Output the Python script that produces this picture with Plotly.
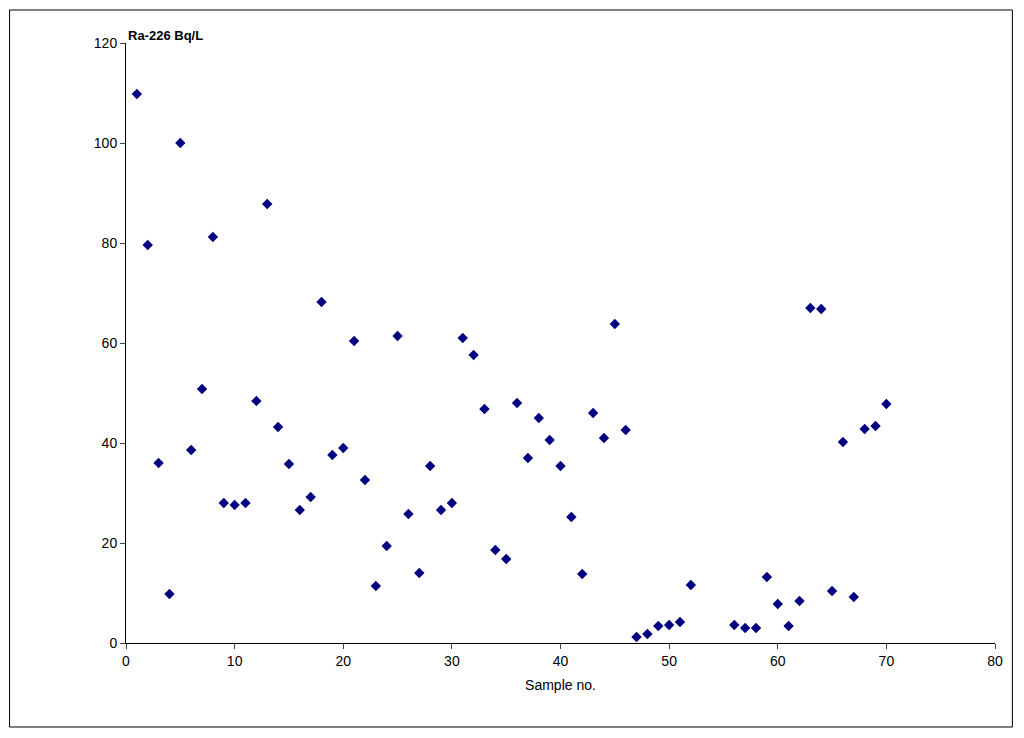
import plotly.graph_objects as go

sample_no = list(range(1, 53)) + list(range(56, 71))
ra226 = [109.8, 79.6, 36, 9.8, 100, 38.6, 50.8, 81.2, 28, 27.6,
         28, 48.4, 87.8, 43.2, 35.8, 26.6, 29.2, 68.2, 37.6, 39,
         60.4, 32.6, 11.4, 19.4, 61.4, 25.8, 14, 35.4, 26.6, 28,
         61, 57.6, 46.8, 18.6, 16.8, 48, 37, 45, 40.6, 35.4,
         25.2, 13.8, 46, 41, 63.8, 42.6, 1.2, 1.8, 3.4, 3.6,
         4.2, 11.6,
         3.6, 3, 3, 13.2, 7.8, 3.4, 8.4, 67, 66.8, 10.4,
         40.2, 9.2, 42.8, 43.4, 47.8]

fig = go.Figure(go.Scatter(x=sample_no, y=ra226, mode="markers",
                           marker=dict(symbol="diamond", size=8, color="#000080")))
fig.update_layout(
    width=1008, height=722, paper_bgcolor="white", plot_bgcolor="white",
    margin=dict(l=118, r=21, t=35, b=87),
    font=dict(family="Liberation Sans, Arial", size=14, color="black"),
    showlegend=False,
    xaxis=dict(range=[0, 80], dtick=10, showline=True, linecolor="black",
               ticks="outside", ticklen=5, showgrid=False, zeroline=False,
               title=dict(text="Sample no.", standoff=12, font=dict(size=14))),
    yaxis=dict(range=[0, 120], dtick=20, showline=True, linecolor="black",
               ticks="outside", ticklen=5, showgrid=False, zeroline=False),
    annotations=[dict(text="<b>Ra-226 Bq/L</b>", xref="paper", yref="paper", x=0, y=1,
                      xanchor="left", yanchor="bottom", showarrow=False,
                      font=dict(size=13), yshift=-2)],
    shapes=[dict(type="rect", xref="paper", yref="paper", x0=-0.134, x1=1.02,
                 y0=-0.14, y1=1.055, line=dict(color="black", width=1))],
)
fig.write_html("out.html")
